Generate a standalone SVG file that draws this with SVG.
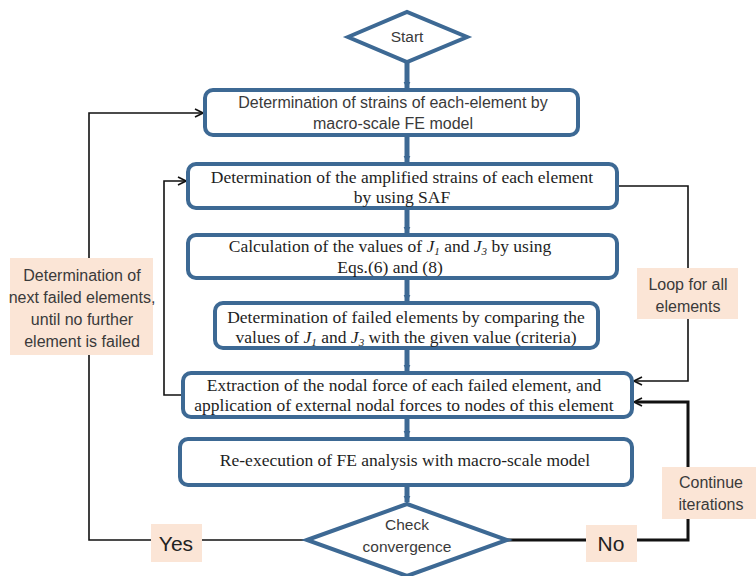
<svg xmlns="http://www.w3.org/2000/svg" width="756" height="576" viewBox="0 0 756 576">
<defs>
<style>
.box{fill:#fff;stroke:#3d6994;stroke-width:4}
.dia{fill:#fff;stroke:#3d6994;stroke-width:4;stroke-linejoin:miter}
.lbl{fill:#fbe5d6;stroke:none}
.flow{stroke:#3d6994;stroke-width:5;fill:none}
.con{stroke:#111;stroke-width:1.6;fill:none}
.conb{stroke:#111;stroke-width:3;fill:none}
.sans{font-family:"Liberation Sans",Arial,sans-serif;fill:#3a3a3a;text-anchor:middle;font-size:16px}
.big{font-size:21px;fill:#222}
.mid{font-size:15.5px}
.serif{font-family:"Liberation Serif","Times New Roman",serif;font-size:17.5px;fill:#1e1e1e;text-anchor:middle}
.it{font-style:italic}
.sub{font-style:italic;font-size:11px}
</style>
<marker id="ab" viewBox="0 0 10 10" refX="9" refY="5" markerWidth="10" markerHeight="10" markerUnits="userSpaceOnUse" orient="auto">
<path d="M1,1 L9,5 L1,9" fill="none" stroke="#111" stroke-width="1.6"/>
</marker>
<marker id="fb" viewBox="0 0 10 10" refX="9" refY="5" markerWidth="7" markerHeight="12" markerUnits="userSpaceOnUse" orient="auto">
<path d="M0,0 L10,5 L0,10 z" fill="#3d6994"/>
</marker>
</defs>

<g id="connectors">
<line class="flow" x1="407" y1="62" x2="407" y2="88" marker-end="url(#fb)"/>
<line class="flow" x1="407" y1="137" x2="407" y2="162" marker-end="url(#fb)"/>
<line class="flow" x1="407" y1="210" x2="407" y2="233" marker-end="url(#fb)"/>
<line class="flow" x1="407" y1="280" x2="407" y2="301" marker-end="url(#fb)"/>
<line class="flow" x1="407" y1="350" x2="407" y2="371" marker-end="url(#fb)"/>
<line class="flow" x1="407" y1="419" x2="407" y2="437" marker-end="url(#fb)"/>
<line class="flow" x1="407" y1="487" x2="407" y2="502" marker-end="url(#fb)"/>
<polyline class="con" points="307,540 89,540 89,113 203,113" marker-end="url(#ab)"/>
<polyline class="con" points="183,395 164,395 164,181 186,181" marker-end="url(#ab)"/>
<polyline class="con" points="619,186 688,186 688,381 634,381" marker-end="url(#ab)"/>
<polyline class="conb" points="507,540 688,540 688,402 636,402"/>
<line class="con" x1="640" y1="402" x2="634" y2="402" marker-end="url(#ab)"/>
</g>

<g id="start">
<polygon class="dia" points="348,37 407,12 467,37 407,62"/>
<text class="sans mid" x="407" y="42">Start</text>
</g>

<g id="box1">
<rect class="box" x="205" y="90" width="373" height="45" rx="8"/>
<text class="sans" x="393" y="108">Determination of strains of each-element by</text>
<text class="sans" x="393" y="129">macro-scale FE model</text>
</g>

<g id="box2">
<rect class="box" x="188" y="164" width="429" height="44" rx="8"/>
<text class="serif" x="402" y="183">Determination of the amplified strains of each element</text>
<text class="serif" x="402" y="203">by using SAF</text>
</g>

<g id="box3">
<rect class="box" x="188" y="235" width="429" height="43" rx="8"/>
<text class="serif" x="390" y="252">Calculation of the values of <tspan class="it">J</tspan><tspan class="sub" dy="2.5">1</tspan><tspan dy="-2.5"> and </tspan><tspan class="it">J</tspan><tspan class="sub" dy="2.5">3</tspan><tspan dy="-2.5"> by using</tspan></text>
<text class="serif" x="390" y="273">Eqs.(6) and (8)</text>
</g>

<g id="box4">
<rect class="box" x="215" y="303" width="383" height="45" rx="8"/>
<text class="serif" x="406" y="323">Determination of failed elements by comparing the</text>
<text class="serif" x="406" y="343">values of <tspan class="it">J</tspan><tspan class="sub" dy="2.5">1</tspan><tspan dy="-2.5"> and </tspan><tspan class="it">J</tspan><tspan class="sub" dy="2.5">3</tspan><tspan dy="-2.5"> with the given value (criteria)</tspan></text>
</g>

<g id="box5">
<rect class="box" x="183" y="373" width="449" height="44" rx="8"/>
<text class="serif" x="404" y="391">Extraction of the nodal force of each failed element, and</text>
<text class="serif" x="404" y="411">application of external nodal forces to nodes of this element</text>
</g>

<g id="box6">
<rect class="box" x="180" y="439" width="452" height="46" rx="8"/>
<text class="serif" x="405" y="466">Re-execution of FE analysis with macro-scale model</text>
</g>

<g id="check">
<polygon class="dia" points="307,540 407,504 507,540 407,576"/>
<text class="sans mid" x="407" y="530">Check</text>
<text class="sans mid" x="407" y="552">convergence</text>
</g>

<g id="label-left">
<rect class="lbl" x="10" y="258" width="143" height="97"/>
<text class="sans" x="82" y="281">Determination of</text>
<text class="sans" x="82" y="303">next failed elements,</text>
<text class="sans" x="82" y="325">until no further</text>
<text class="sans" x="82" y="347">element is failed</text>
</g>

<g id="label-loop">
<rect class="lbl" x="637" y="268" width="101" height="51"/>
<text class="sans" x="688" y="290">Loop for all</text>
<text class="sans" x="688" y="312">elements</text>
</g>

<g id="label-continue">
<rect class="lbl" x="662" y="467" width="94" height="52"/>
<text class="sans" x="711" y="488">Continue</text>
<text class="sans" x="711" y="510">iterations</text>
</g>

<g id="label-yes">
<rect class="lbl" x="151" y="524" width="51" height="38"/>
<text class="sans big" x="176" y="551">Yes</text>
</g>

<g id="label-no">
<rect class="lbl" x="586" y="525" width="51" height="37"/>
<text class="sans big" x="611" y="551">No</text>
</g>
</svg>
